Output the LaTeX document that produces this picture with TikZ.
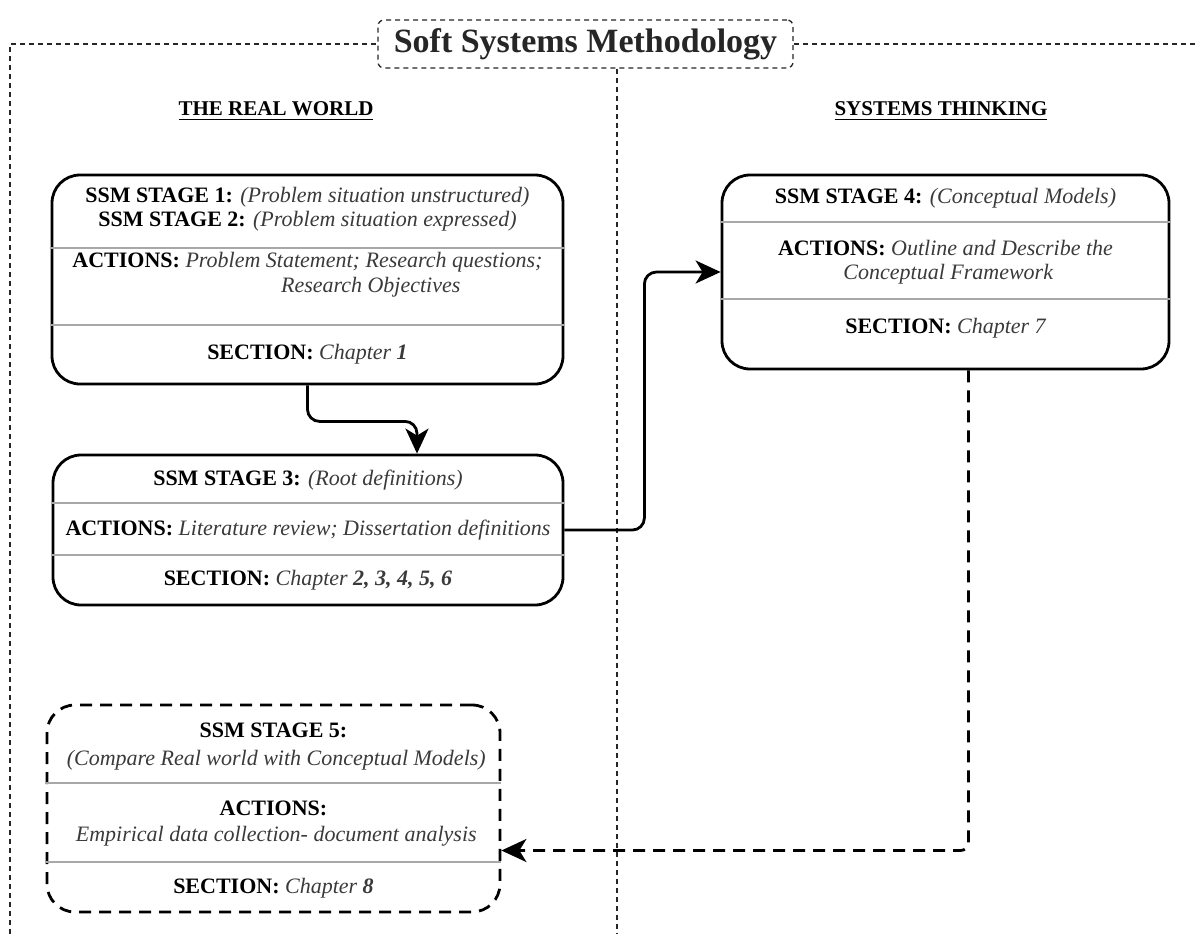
\documentclass[tikz,border=0pt]{standalone}
\usepackage{fontspec}
\setmainfont{Liberation Serif}
\usepackage{xcolor}
\usetikzlibrary{arrows.meta}

\definecolor{rulegray}{HTML}{A8A8A8}
\definecolor{descgray}{HTML}{3A3A3A}

% bold label followed by italic description
\newcommand{\stagetxt}[2]{\textbf{#1} {\itshape\color{descgray}#2}}
% heading with a heavy underline
\newcommand{\thickul}[1]{\vtop{\hbox{#1}\kern2.5pt\hrule height 1.6pt}}
% gray rule across a box at a given height
\newcommand{\splitline}[2]{
    \draw[divider] (#1.west |- 0,#2) -- (#1.east |- 0,#2);
}

\tikzset{
    frameline/.style={black!85, line width=1.3pt, dash pattern=on 5pt off 4pt},
    titlebox/.style={draw, frameline, rounded corners=6pt, minimum width=415pt,
        minimum height=48pt, fill=white, font=\fontsize{34}{40}\selectfont\bfseries},
    header/.style={font=\fontsize{21}{24}\selectfont\bfseries},
    stagebox/.style={draw, line width=2.8pt, rounded corners=28pt},
    dashbox/.style={stagebox, dash pattern=on 12pt off 8pt},
    stagetext/.style={inner sep=0pt, font=\fontsize{22}{25}\selectfont},
    divider/.style={rulegray, line width=1.6pt},
    flow/.style={line width=2.8pt, rounded corners=12pt,
        -{Stealth[length=25pt,width=23pt,inset=7pt]}},
    flowdash/.style={flow, rounded corners=8pt, dash pattern=on 12pt off 8pt}
}

\begin{document}
\begin{tikzpicture}[x=1pt, y=-1pt]

    \useasboundingbox (0,0) rectangle (1197,934);

    % Title and the dashed frame around both halves
    \node[titlebox] (title) at (585.5,44) {Soft Systems Methodology};
    \draw[frameline] (10,934) -- (10,44) -- (title.west);
    \draw[frameline] (title.east) -- (1197,44);
    \draw[frameline] (title.south -| 617,0) -- (617,934);

    % Column headings
    \node[header] (realworld) at (276,111) {\thickul{THE REAL WORLD}};
    \node[header] (systhinking) at (941,111) {\thickul{SYSTEMS THINKING}};

    % Stage 1 and 2
    \node[stagebox, minimum width=511pt, minimum height=209pt] (stageone) at (307.5,279.5) {};
    \node[stagetext] (s1a) at (307.5,197) {\stagetxt{SSM STAGE 1:}{(Problem situation unstructured)}};
    \node[stagetext] (s1b) at (307.5,221) {\stagetxt{SSM STAGE 2:}{(Problem situation expressed)}};
    \node[stagetext] (s1c) at (307.5,262) {\stagetxt{ACTIONS:}{Problem Statement; Research questions;}};
    \node[stagetext] (s1d) at (368,287) {\stagetxt{}{Research Objectives}};
    \node[stagetext] (s1e) at (307.5,354) {\stagetxt{SECTION:}{Chapter \textbf{1}}};
    \splitline{stageone}{248}
    \splitline{stageone}{325}

    % Stage 3
    \node[stagebox, minimum width=510pt, minimum height=150pt] (stagethree) at (308,530) {};
    \node[stagetext] (s3a) at (308,480) {\stagetxt{SSM STAGE 3:}{(Root definitions)}};
    \node[stagetext] (s3b) at (308,530) {\stagetxt{ACTIONS:}{Literature review; Dissertation definitions}};
    \node[stagetext] (s3c) at (308,580) {\stagetxt{SECTION:}{Chapter \textbf{2, 3, 4, 5, 6}}};
    \splitline{stagethree}{503}
    \splitline{stagethree}{555}

    % Stage 4
    \node[stagebox, minimum width=447pt, minimum height=194pt] (stagefour) at (945.5,272) {};
    \node[stagetext] (s4a) at (945.5,198) {\stagetxt{SSM STAGE 4:}{(Conceptual Models)}};
    \node[stagetext] (s4b) at (945.5,248) {\stagetxt{ACTIONS:}{Outline and Describe the}};
    \node[stagetext] (s4c) at (945.5,274) {\stagetxt{}{Conceptual Framework}};
    \node[stagetext] (s4d) at (945.5,328) {\stagetxt{SECTION:}{Chapter 7}};
    \splitline{stagefour}{222}
    \splitline{stagefour}{299}

    % Stage 5 (dashed)
    \node[dashbox, minimum width=453pt, minimum height=207pt] (stagefive) at (273.5,808.5) {};
    \node[stagetext] (s5a) at (273.5,730) {\textbf{SSM STAGE 5:}};
    \node[stagetext] (s5b) at (273.5,760) {\stagetxt{}{(Compare Real world with Conceptual Models)}};
    \node[stagetext] (s5c) at (273.5,808) {\textbf{ACTIONS:}};
    \node[stagetext] (s5d) at (273.5,836) {\stagetxt{}{Empirical data collection- document analysis}};
    \node[stagetext] (s5e) at (273.5,888) {\stagetxt{SECTION:}{Chapter \textbf{8}}};
    \splitline{stagefive}{783}
    \splitline{stagefive}{862}

    % Connectors between the stages
    \draw[flow] (stageone.south) -- ++(0,36) -| ([xshift=109pt]stagethree.north);
    \draw[flow] (stagethree.east) -- ++(80,0) |- (stagefour.west);
    \draw[flowdash] ([xshift=23pt]stagefour.south) |- ([yshift=-42pt]stagefive.east);

\end{tikzpicture}
\end{document}
